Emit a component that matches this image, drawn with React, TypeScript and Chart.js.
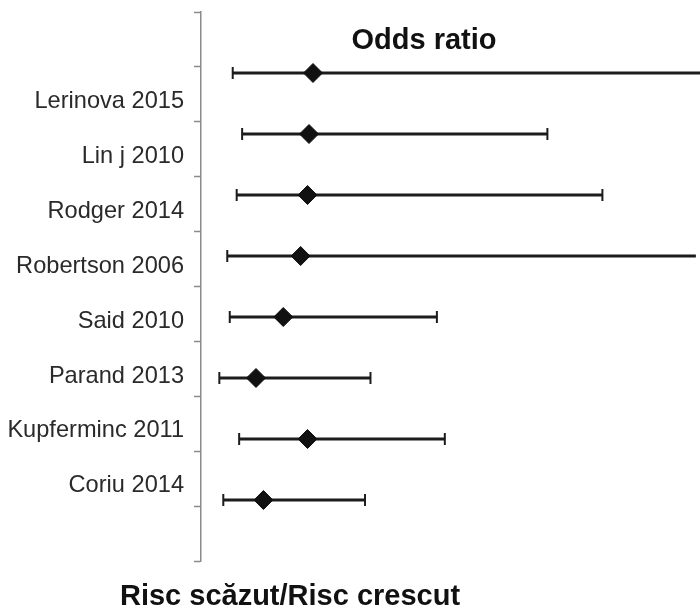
import React, { useEffect, useRef } from 'react';
import { Chart, registerables } from 'chart.js';

Chart.register(...registerables);

// ---- data ----
const studies = [
  'Lerinova 2015',
  'Lin j 2010',
  'Rodger 2014',
  'Robertson 2006',
  'Said 2010',
  'Parand 2013',
  'Kupferminc 2011',
  'Coriu 2014',
];
const oddsRatio = [2.26, 2.18, 2.15, 2.01, 1.66, 1.11, 2.15, 1.26];
const ciLower = [0.64, 0.83, 0.72, 0.53, 0.58, 0.37, 0.77, 0.45];
const ciUpper = [11.0, 6.99, 8.1, 9.98, 4.76, 3.42, 4.92, 3.31];
const axisTickValues = [0, 1, 2, 3, 4, 5, 6, 7, 8, 9, 10];
const titleText = 'Odds ratio';
const captionText = 'Risc scăzut/Risc crescut';

// ---- styling / layout constants ----
const LABEL_OFFSET = 1.63;
const FONT = "'Liberation Sans', Arial, sans-serif";
const LINE_COLOR = '#1c1c1c';
const AXIS_COLOR = '#8a8a8a';

export default function App() {
  const ref = useRef<HTMLCanvasElement | null>(null);

  useEffect(() => {
    if (!ref.current) return;
    const labelValues = studies.map((_, i) => i + LABEL_OFFSET);
    const isLabelValue = (v: number) => labelValues.some((lv) => Math.abs(lv - v) < 1e-6);
    const labelFor = (v: number) => {
      const idx = labelValues.findIndex((lv) => Math.abs(lv - v) < 1e-6);
      return idx >= 0 ? studies[idx] : '';
    };

    const chart = new Chart(ref.current, {
      type: 'bar',
      data: {
        datasets: [
          {
            type: 'scatter',
            label: 'OR',
            data: studies.map((_, i) => ({ x: oddsRatio[i], y: i })),
            xAxisID: 'x',
            yAxisID: 'yp',
            pointStyle: 'rectRot',
            pointRadius: 9.5,
            pointBackgroundColor: '#111',
            pointBorderColor: '#111',
            pointBorderWidth: 1,
            showLine: false,
            order: 0,
            clip: false,
          } as any,
          {
            type: 'scatter',
            label: 'caps',
            data: studies.flatMap((_, i) => [
              { x: ciLower[i], y: i },
              { x: ciUpper[i], y: i },
            ]),
            xAxisID: 'x',
            yAxisID: 'yp',
            pointStyle: 'line',
            pointRotation: 90,
            pointRadius: 6,
            pointBorderColor: LINE_COLOR,
            pointBorderWidth: 2,
            showLine: false,
            order: 1,
            clip: false,
          } as any,
          {
            type: 'bar',
            label: 'CI',
            indexAxis: 'y',
            data: studies.map((_, i) => ({ y: i, x: [ciLower[i], ciUpper[i]] })),
            xAxisID: 'x',
            yAxisID: 'yp',
            backgroundColor: LINE_COLOR,
            borderWidth: 0,
            barThickness: 2.5,
            order: 2,
            clip: false,
          } as any,
        ],
      },
      options: {
        responsive: false,
        animation: false,
        layout: { padding: { left: -67, right: 53, top: 0, bottom: 0 } },
        plugins: {
          legend: { display: false },
          tooltip: { enabled: false },
          title: {
            display: true,
            text: titleText,
            position: 'top',
            fullSize: false,
            align: 'center',
            color: '#111',
            font: { family: FONT, size: 29, weight: 'bold', lineHeight: 1 },
            padding: { top: 26, bottom: -43 },
          },
          subtitle: {
            display: true,
            text: captionText,
            position: 'bottom',
            fullSize: true,
            align: 'center',
            color: '#111',
            font: { family: FONT, size: 29, weight: 'bold', lineHeight: 1 },
            padding: { top: 21.5, bottom: -2.5 },
          },
        },
        scales: {
          x: {
            type: 'linear',
            min: 0,
            max: 9,
            offset: false,
            display: false,
          },
          yp: {
            type: 'linear',
            min: -1,
            max: 8,
            reverse: true,
            offset: false,
            display: false,
          },
          y: {
            type: 'linear',
            position: 'left',
            min: 0,
            max: 10,
            reverse: true,
            offset: false,
            afterBuildTicks: (scale: any) => {
              const vals = [...axisTickValues, ...labelValues].sort((a, b) => a - b);
              scale.ticks = vals.map((v) => ({ value: v }));
            },
            afterFit: (scale: any) => {
              scale.width = 268;
            },
            ticks: {
              autoSkip: false,
              padding: 10,
              color: '#2a2a2a',
              font: { family: FONT, size: 23.6, lineHeight: 0.1 },
              callback: (value: any) => labelFor(Number(value)),
            },
            grid: {
              display: true,
              drawOnChartArea: false,
              drawTicks: true,
              tickLength: 7,
              tickWidth: 1.5,
              tickColor: (ctx: any) =>
                ctx.tick && isLabelValue(ctx.tick.value) ? 'rgba(0,0,0,0)' : AXIS_COLOR,
            },
            border: { display: true, color: AXIS_COLOR, width: 1.5 },
          },
        },
      } as any,
    });

    return () => chart.destroy();
  }, []);

  return (
    <div style={{ position: 'absolute', left: 0, top: 0, width: 700, height: 609, background: '#fff' }}>
      <canvas ref={ref} width={700} height={609} style={{ display: 'block' }} />
    </div>
  );
}
